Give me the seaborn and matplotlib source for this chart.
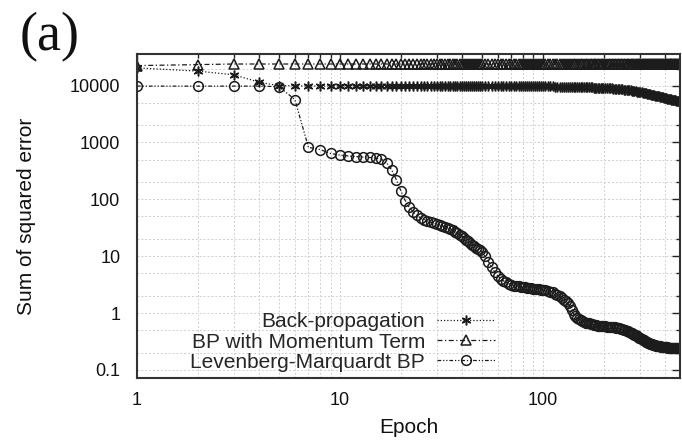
import matplotlib
matplotlib.use("Agg")
import matplotlib.pyplot as plt
import seaborn as sns
from matplotlib.ticker import LogLocator, NullFormatter

# ---------------- data ----------------
epochs = [1, 2, 3, 4, 5, 6, 7, 8, 9, 10,
          11, 12, 13, 14, 15, 16, 17, 18, 19, 20,
          21, 22, 23, 24, 25, 26, 27, 28, 29, 30,
          31, 32, 33, 34, 35, 36, 37, 38, 39, 40,
          41, 42, 43, 44, 45, 46, 47, 48, 49, 50,
          52, 54, 56, 58, 60, 62, 64, 66, 68, 70,
          72, 74, 76, 78, 80, 82, 84, 86, 88, 90,
          92, 94, 96, 98, 100,
          103, 106, 109, 112, 115, 118, 121, 124, 127, 130,
          133, 136, 139, 142, 145, 148, 151, 154, 157, 160,
          163, 166, 169, 172, 175, 178, 181, 184, 187, 190,
          193, 196, 199,
          203, 207, 211, 215, 219, 223, 227, 231, 235, 239,
          243, 247, 251, 255, 259, 263, 267, 271, 275, 279,
          283, 287, 291, 295, 299, 303, 307, 311, 315, 319,
          323, 327, 331, 335, 339, 343, 347, 351, 355, 359,
          363, 367, 371, 375, 379, 383, 387, 391, 395, 399,
          403, 407, 411, 415, 419, 423, 427, 431, 435, 439,
          443, 447, 451, 455, 459, 463, 467, 471,
          475]

backprop = [20500, 18000, 15500, 11500, 10000, 9900, 9850, 9850, 9850, 9850,
            9850, 9850, 9850, 9850, 9850, 9850, 9850, 9850, 9850, 9850,
            9800, 9800, 9800, 9800, 9800, 9800, 9800, 9800, 9800, 9800,
            9800, 9800, 9800, 9800, 9800, 9800, 9800, 9800, 9800, 9800,
            9800, 9800, 9800, 9800, 9800, 9800, 9800, 9800, 9800, 9800,
            9790, 9790, 9785, 9785, 9780, 9780, 9775, 9775, 9770, 9770,
            9765, 9765, 9760, 9755, 9750, 9745, 9740, 9735, 9730, 9725,
            9720, 9715, 9710, 9705, 9700,
            9690, 9680, 9670, 9660, 9650, 9640, 9630, 9610, 9590, 9570,
            9550, 9530, 9510, 9490, 9470, 9450, 9430, 9410, 9390, 9370,
            9350, 9330, 9310, 9290, 9270, 9250, 9230, 9210, 9190, 9170,
            9150, 9120, 9090,
            9050, 9020, 8990, 8950, 8910, 8870, 8830, 8790, 8740, 8690,
            8640, 8590, 8530, 8470, 8410, 8350, 8290, 8230, 8160, 8090,
            8020, 7950, 7880, 7810, 7740, 7670, 7600, 7530, 7460, 7390,
            7320, 7250, 7180, 7110, 7040, 6970, 6900, 6830, 6760, 6690,
            6620, 6560, 6500, 6440, 6380, 6320, 6260, 6200, 6140, 6080,
            6020, 5970, 5920, 5870, 5820, 5770, 5720, 5680, 5640, 5600,
            5560, 5520, 5490, 5460, 5430, 5400, 5370, 5340,
            5310]

momentum = [22500, 23500, 24000, 24000, 24000, 24000, 24000, 24000, 24000, 24000,
            24000, 24000, 24000, 24000, 24000, 24000, 24000, 24000, 24000, 24000,
            24000, 24000, 24000, 24000, 24000, 24000, 24000, 24000, 24000, 24000,
            24000, 24000, 24000, 24000, 24000, 24000, 24000, 24000, 24000, 24000,
            24000, 24000, 24000, 24000, 24000, 24000, 24000, 24000, 24000, 24000,
            24000, 24000, 24000, 24000, 24000, 24000, 24000, 24000, 24000, 24000,
            24000, 24000, 24000, 24000, 24000, 24000, 24000, 24000, 24000, 24000,
            24000, 24000, 24000, 24000, 24000,
            24000, 24000, 24000, 24000, 24000, 24000, 24000, 24000, 24000, 24000,
            24000, 24000, 24000, 24000, 24000, 24000, 24000, 24000, 24000, 24000,
            24000, 24000, 24000, 24000, 24000, 24000, 24000, 24000, 24000, 24000,
            24000, 24000, 24000,
            24000, 24000, 24000, 24000, 24000, 24000, 24000, 24000, 24000, 24000,
            24000, 24000, 24000, 24000, 24000, 24000, 24000, 24000, 24000, 24000,
            24000, 24000, 24000, 24000, 24000, 24000, 24000, 24000, 24000, 24000,
            24000, 24000, 24000, 24000, 24000, 24000, 24000, 24000, 24000, 24000,
            24000, 24000, 24000, 24000, 24000, 24000, 24000, 24000, 24000, 24000,
            24000, 24000, 24000, 24000, 24000, 24000, 24000, 24000, 24000, 24000,
            24000, 24000, 24000, 24000, 24000, 24000, 24000, 24000,
            24000]

levenberg = [9800, 9800, 9800, 9800, 9600, 5700, 820, 750, 640, 600,
             580, 565, 555, 545, 535, 510, 440, 330, 220, 140,
             95, 72, 60, 52, 47, 44, 41.5, 39.5, 38, 36.5,
             35, 34, 33, 31.5, 30, 28.5, 27, 25.5, 24, 22.5,
             21, 19.5, 18.2, 17, 16, 15, 14.2, 13.5, 12.8, 12,
             10, 8, 6.5, 5.3, 4.5, 4.0, 3.7, 3.45, 3.3, 3.15,
             3.05, 3.0, 2.95, 2.9, 2.85, 2.82, 2.79, 2.76, 2.73, 2.7,
             2.67, 2.64, 2.61, 2.58, 2.55,
             2.5, 2.44, 2.38, 2.3, 2.2, 2.08, 1.96, 1.84, 1.72, 1.6,
             1.48, 1.35, 1.15, 0.98, 0.88, 0.81, 0.77, 0.74, 0.72, 0.70,
             0.68, 0.67, 0.655, 0.645, 0.635, 0.625, 0.617, 0.61, 0.603, 0.597,
             0.592, 0.588, 0.585,
             0.58, 0.577, 0.573, 0.57, 0.566, 0.562, 0.557, 0.552, 0.546, 0.54,
             0.53, 0.52, 0.51, 0.5, 0.49, 0.478, 0.466, 0.454, 0.442, 0.43,
             0.418, 0.406, 0.394, 0.382, 0.37, 0.36, 0.35, 0.34, 0.33, 0.322,
             0.315, 0.308, 0.302, 0.296, 0.291, 0.286, 0.282, 0.278, 0.274, 0.271,
             0.268, 0.265, 0.263, 0.261, 0.259, 0.257, 0.255, 0.254, 0.252, 0.251,
             0.25, 0.249, 0.248, 0.247, 0.246, 0.246, 0.245, 0.245, 0.244, 0.244,
             0.243, 0.243, 0.243, 0.242, 0.242, 0.242, 0.242, 0.242,
             0.242]

series_labels = ["Back-propagation", "BP with Momentum Term", "Levenberg-Marquardt BP"]
x_ticks = [1, 10, 100]
x_tick_labels = ["1", "10", "100"]
y_ticks = [0.1, 1, 10, 100, 1000, 10000]
y_tick_labels = ["0.1", "1", "10", "100", "1000", "10000"]
panel_tag = "(a)"
x_title = "Epoch"
y_title = "Sum of squared error"

# ---------------- figure ----------------
sns.set_theme(style="white")
plt.rcParams['font.family'] = ['Liberation Sans', 'DejaVu Sans']

W, H = 682, 443
fig = plt.figure(figsize=(W / 100, H / 100), dpi=100)
ax = fig.add_axes([137 / W, 65 / H, 543 / W, 324 / H])
ax.set_xscale('log')
ax.set_yscale('log')

ink = '#1c1c1c'
styles = [
    (backprop, series_labels[0], (6, 2, 0), (0, (1, 1.6))),
    (momentum, series_labels[1], '^', (0, (4, 2, 1, 2))),
    (levenberg, series_labels[2], 'o', (0, (3, 1.5, 1, 1.5, 1, 1.5))),
]
for vals, lab, mk, ls in styles:
    sns.lineplot(x=epochs, y=vals, ax=ax, label=lab, color=ink,
                 linewidth=0.9, linestyle=ls, marker=mk, markersize=7,
                 markerfacecolor='none', markeredgecolor=ink,
                 markeredgewidth=1.1, sort=False)

ax.set_xlim(1, 475)
ax.set_ylim(0.072, 36000)

ax.set_xticks(x_ticks, x_tick_labels)
ax.set_yticks(y_ticks, y_tick_labels)
ax.xaxis.set_minor_locator(LogLocator(base=10, subs=range(2, 10), numticks=20))
ax.yaxis.set_minor_locator(LogLocator(base=10, subs=(2, 5), numticks=20))
ax.xaxis.set_minor_formatter(NullFormatter())
ax.yaxis.set_minor_formatter(NullFormatter())

ax.tick_params(which='both', direction='in', top=True, right=True,
               color='#222222', width=1.0)
ax.tick_params(which='major', length=6, labelsize=13, labelcolor='#111111')
ax.tick_params(which='minor', length=3)
ax.tick_params(axis='y', which='major', pad=12)
ax.tick_params(axis='x', which='major', pad=10)

ax.grid(which='both', color='#cfcfcf', linestyle=(0, (2, 2)), linewidth=0.7)
ax.set_axisbelow(True)
for sp in ax.spines.values():
    sp.set_color('#333333')
    sp.set_linewidth(1.5)

ax.set_xlabel(x_title, fontsize=15, color='#111111')
ax.set_ylabel(y_title, fontsize=15, color='#111111')
ax.xaxis.set_label_coords(0.5, -0.123)
ax.yaxis.set_label_coords(-0.186, 0.5)

ax.legend(loc='center right', bbox_to_anchor=(495 / W, 1 - 342 / H),
          bbox_transform=fig.transFigure, frameon=False, markerfirst=False,
          fontsize=15, handlelength=2.8, handletextpad=0.55,
          labelspacing=0.05, borderpad=0, borderaxespad=0)

fig.text(20 / W, 1 - 50 / H, panel_tag, family=['Liberation Serif', 'DejaVu Serif'],
         fontsize=39, va='baseline', ha='left', color='#111111')

fig.savefig("out.png", dpi=100)
